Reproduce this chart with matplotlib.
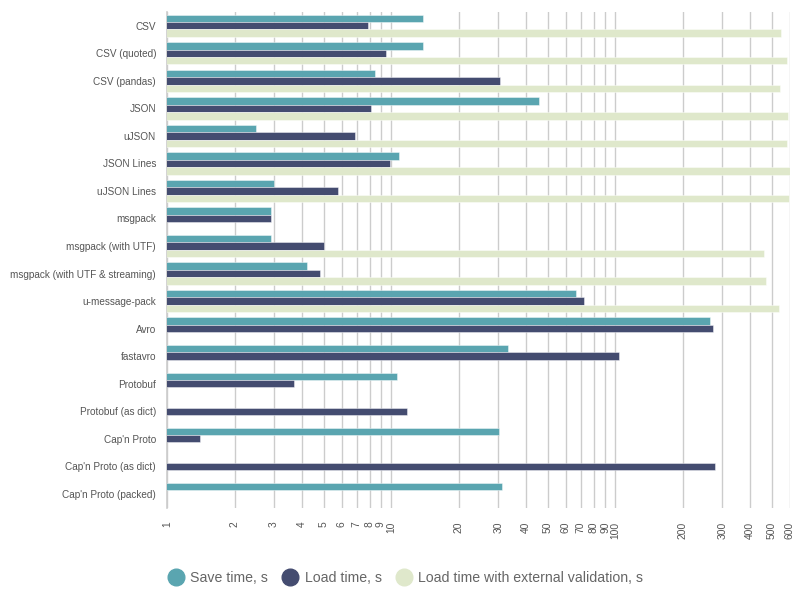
import numpy as np
import matplotlib
matplotlib.use("Agg")
import matplotlib.pyplot as plt
from matplotlib.lines import Line2D

categories = ["CSV", "CSV (quoted)", "CSV (pandas)", "JSON", "uJSON", "JSON Lines",
              "uJSON Lines", "msgpack", "msgpack (with UTF)",
              "msgpack (with UTF & streaming)", "u-message-pack", "Avro", "fastavro",
              "Protobuf", "Protobuf (as dict)", "Cap'n Proto", "Cap'n Proto (as dict)",
              "Cap'n Proto (packed)"]
nan = np.nan
save_time = [13.8, 13.9, 8.5, 45.7, 2.49, 10.8, 3.0, 2.9, 2.9, 4.2, 66.6, 264, 33.2,
             10.6, nan, 30.4, nan, 31.2]
load_time = [7.9, 9.5, 30.5, 8.1, 6.9, 9.9, 5.8, 2.9, 5.0, 4.8, 72.5, 272, 103.5,
             3.7, 11.7, 1.40, 280, nan]
load_valid = [547, 583, 543, 588, 583, 600, 596, nan, 463, 473, 538, nan, nan,
              nan, nan, nan, nan, nan]
series_names = ["Save time, s", "Load time, s", "Load time with external validation, s"]
colors = ["#5aa5b0", "#444c70", "#dfe8cb"]
xticks = [1, 2, 3, 4, 5, 6, 7, 8, 9, 10, 20, 30, 40, 50, 60, 70, 80, 90, 100,
          200, 300, 400, 500, 600]

fig = plt.figure(figsize=(8, 6), dpi=100)
ax = fig.add_axes([0.209, 0.154, 0.779, 0.826])

y = np.arange(len(categories))
h = 0.27
offsets = [-0.27, 0.0, 0.27]
for vals, off, c in zip([save_time, load_time, load_valid], offsets, colors):
    v = np.array(vals, dtype=float)
    mask = ~np.isnan(v)
    ax.barh(y[mask] + off, v[mask], height=h, left=0.0001, color=c,
            edgecolor=(1, 1, 1, 0.5), linewidth=0.6, zorder=3)

ax.set_xscale("log")
ax.set_xlim(1, 605)
ax.set_ylim(len(categories) - 0.5, -0.5)
ax.set_yticks(y)
ax.set_yticklabels(categories, fontsize=7.2, color="#555555", family="Liberation Sans")
ax.set_xticks(xticks)
ax.set_xticks([], minor=True)
ax.set_xticklabels([str(t) for t in xticks], rotation=90, fontsize=7.4,
                   color="#555555", family="Liberation Sans")
ax.tick_params(axis="both", length=0)
ax.tick_params(axis="x", pad=10)
ax.tick_params(axis="y", pad=8)
ax.grid(axis="x", color="#cccccc", linewidth=1, zorder=0)
ax.set_axisbelow(True)
for s in ["top", "right", "bottom"]:
    ax.spines[s].set_visible(False)
ax.spines["left"].set_color("#cccccc")
ax.spines["left"].set_linewidth(1.2)

handles = [Line2D([0], [0], marker="o", linestyle="none", markersize=12,
                  markerfacecolor=c, markeredgecolor=c) for c in colors]
fig.legend(handles, series_names, loc="center", bbox_to_anchor=(0.5075, 0.037),
           ncol=3, frameon=False, handlelength=1.0, handletextpad=0.5,
           columnspacing=1.1,
           prop={"family": "Liberation Sans", "size": 10.2}, labelcolor="#666666")

fig.savefig("out.png", dpi=100)
